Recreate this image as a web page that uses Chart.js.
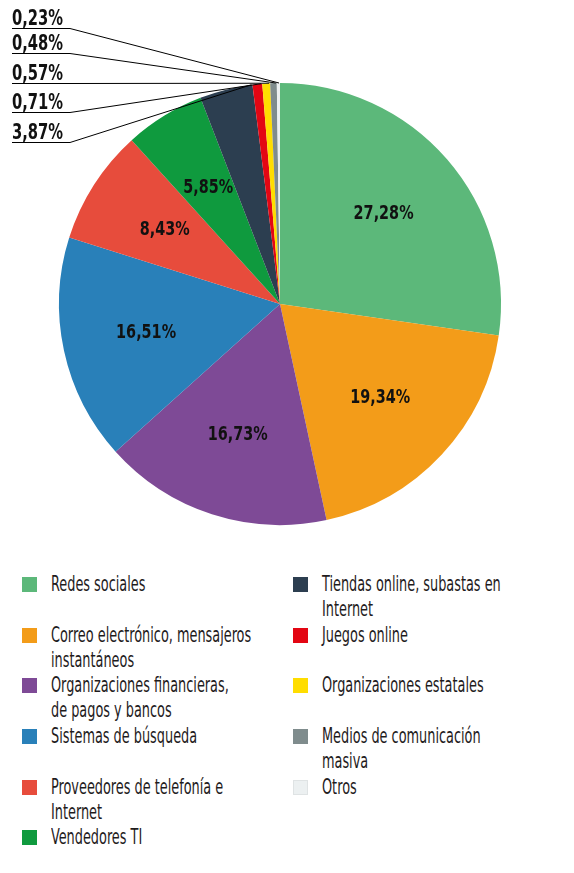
<!DOCTYPE html>
<html>
<head>
<meta charset="utf-8">
<script src="https://cdn.jsdelivr.net/npm/chart.js@4"></script>
<style>
  body { margin: 0; background: #fff; font-family: "DejaVu Sans Condensed", "DejaVu Sans", sans-serif; }
  #wrap { position: relative; width: 574px; height: 873px; }
  #chartBox { position: absolute; left: 0; top: 0; width: 574px; height: 545px; }
  #legend { position: absolute; left: 22px; top: 571px; width: 552px; display: grid;
    grid-template-columns: 271px 281px; grid-template-rows: repeat(6, 50.7px); grid-auto-flow: column; }
  .item { display: flex; align-items: flex-start; font-size: 22px; line-height: 25px; color: #1f1c1d; }
  .sw { width: 15px; height: 15px; margin-top: 6px; margin-right: 14px; flex: none; }
  .txt { display: inline-block; white-space: nowrap; transform: scaleX(0.65); transform-origin: 0 0; }
</style>
</head>
<body>
<div id="wrap">
  <div id="chartBox"><canvas id="pie"></canvas></div>
  <div id="legend"></div>
</div>
<script>
const categories = [
  'Redes sociales',
  ['Correo electrónico, mensajeros', 'instantáneos'],
  ['Organizaciones financieras,', 'de pagos y bancos'],
  'Sistemas de búsqueda',
  ['Proveedores de telefonía e', 'Internet'],
  'Vendedores TI',
  ['Tiendas online, subastas en', 'Internet'],
  'Juegos online',
  'Organizaciones estatales',
  ['Medios de comunicación', 'masiva'],
  'Otros'
];
const shares = [27.28, 19.34, 16.73, 16.51, 8.43, 5.85, 3.87, 0.71, 0.57, 0.48, 0.23];
const colors = ['#5cb87a', '#f39c19', '#7e4a96', '#2980b9', '#e74c3c', '#0f9a3e',
                '#2c3e50', '#e30613', '#ffdd00', '#7f8c8d', '#ecf0f1'];

const fmt = v => v.toFixed(2).replace('.', ',') + '%';
const FONT = '"DejaVu Sans Condensed", "DejaVu Sans", sans-serif';

// condensed text: squeeze horizontally around the anchor
function squeezeText(ctx, text, x, y, sx) {
  ctx.save();
  ctx.translate(x, y);
  ctx.scale(sx, 1);
  ctx.fillText(text, 0, 0);
  ctx.restore();
}

// inside labels for big slices, leader lines for the small ones
const pieLabels = {
  id: 'pieLabels',
  afterDatasetsDraw(chart) {
    const ctx = chart.ctx;
    const meta = chart.getDatasetMeta(0);
    const data = chart.data.datasets[0].data;
    ctx.save();
    ctx.fillStyle = '#111';
    ctx.font = 'bold 20px ' + FONT;
    ctx.textAlign = 'center';
    ctx.textBaseline = 'middle';
    const small = [];
    meta.data.forEach((arc, i) => {
      if (data[i] < 5) { small.push(i); return; }
      const mid = (arc.startAngle + arc.endAngle) / 2;
      const r = arc.outerRadius * 0.62;
      squeezeText(ctx, fmt(data[i]), arc.x + Math.cos(mid) * r, arc.y + Math.sin(mid) * r, 0.8);
    });
    small.reverse();
    const rows = [28, 53, 83, 112, 142];
    ctx.font = 'bold 21px ' + FONT;
    ctx.textAlign = 'left';
    ctx.textBaseline = 'alphabetic';
    ctx.strokeStyle = '#000';
    ctx.lineWidth = 1;
    small.forEach((i, k) => {
      const arc = meta.data[i];
      const ex = arc.x + Math.cos(arc.endAngle) * arc.outerRadius - 1;
      const ey = arc.y + Math.sin(arc.endAngle) * arc.outerRadius;
      const y = rows[k];
      squeezeText(ctx, fmt(data[i]), 12, y - 3, 0.78);
      ctx.beginPath();
      ctx.moveTo(12, y + 0.5);
      ctx.lineTo(70, y + 0.5);
      ctx.lineTo(ex, ey);
      ctx.stroke();
    });
    ctx.restore();
  }
};

new Chart(document.getElementById('pie'), {
  type: 'pie',
  data: {
    labels: categories,
    datasets: [{ data: shares, backgroundColor: colors, borderWidth: 0 }]
  },
  options: {
    responsive: true,
    maintainAspectRatio: false,
    animation: false,
    layout: { padding: { top: 83, bottom: 20, left: 59, right: 73 } },
    plugins: { legend: { display: false }, tooltip: { enabled: false } }
  },
  plugins: [pieLabels]
});

// legend in two columns, built from the same arrays
const legend = document.getElementById('legend');
categories.forEach((c, i) => {
  const item = document.createElement('div');
  item.className = 'item';
  const sw = document.createElement('span');
  sw.className = 'sw';
  sw.style.background = colors[i];
  if (i === colors.length - 1) {
    sw.style.border = '1px solid #dfe3e4';
    sw.style.width = '13px';
    sw.style.height = '13px';
  }
  const txt = document.createElement('span');
  txt.className = 'txt';
  txt.innerHTML = (Array.isArray(c) ? c : [c]).join('<br>');
  item.appendChild(sw);
  item.appendChild(txt);
  legend.appendChild(item);
});
</script>
</body>
</html>
